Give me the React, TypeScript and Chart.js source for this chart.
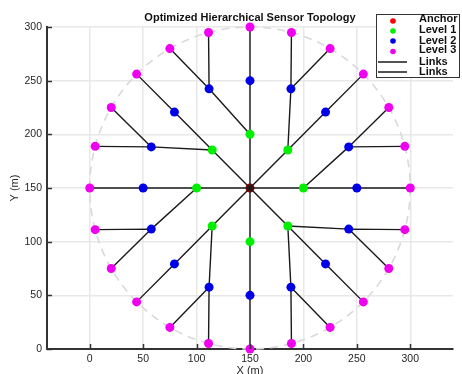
import { useEffect, useRef } from 'react';
import { Chart, registerables } from 'chart.js';

Chart.register(...registerables);

const TITLE = 'Optimized Hierarchical Sensor Topology';
const X_LABEL = 'X (m)';
const Y_LABEL = 'Y (m)';
const X_TICKS = [0, 50, 100, 150, 200, 250, 300];
const Y_TICKS = [0, 50, 100, 150, 200, 250, 300];
const X_RANGE = [-40, 340];
const Y_RANGE = [0, 300];

const ANCHOR_X = [150];
const ANCHOR_Y = [150];

const L1_X = [200, 185.4, 150, 114.6, 100, 114.6, 150, 185.4];
const L1_Y = [150, 185.4, 200, 185.4, 150, 114.6, 100, 114.6];

const L2_X = [250, 242.4, 220.7, 188.3, 150, 111.7, 79.3, 57.6, 50, 57.6, 79.3, 111.7, 150, 188.3, 220.7, 242.4];
const L2_Y = [150, 188.3, 220.7, 242.4, 250, 242.4, 220.7, 188.3, 150, 111.7, 79.3, 57.6, 50, 57.6, 79.3, 111.7];

const L3_X = [300, 294.9, 279.9, 256.1, 225, 188.8, 150, 111.2, 75, 43.9, 20.1, 5.1, 0, 5.1, 20.1, 43.9, 75, 111.2, 150, 188.8, 225, 256.1, 279.9, 294.9];
const L3_Y = [150, 188.8, 225, 256.1, 279.9, 294.9, 300, 294.9, 279.9, 256.1, 225, 188.8, 150, 111.2, 75, 43.9, 20.1, 5.1, 0, 5.1, 20.1, 43.9, 75, 111.2];

// parent index of each Level 2 node (into Level 1) and of each Level 3 node (into Level 2)
const L2_PARENT = [0, 0, 1, 1, 2, 2, 3, 3, 4, 4, 5, 5, 6, 7, 7, 7];
const L3_PARENT = [0, 1, 1, 2, 3, 3, 4, 5, 5, 6, 7, 7, 8, 9, 9, 10, 11, 11, 12, 13, 13, 14, 15, 15];

const COVERAGE_CENTER = [150, 150];
const COVERAGE_RADIUS = [150];

const LEGEND_LABELS = ['Anchor', 'Level 1', 'Level 2', 'Level 3', 'Links', 'Links'];
const COLORS = { anchor: '#ff0000', anchorPlot: '#a00000', l1: '#00f000', l2: '#0000e6', l3: '#f000f0', link: '#1a1a1a' };

const FONT = "'Liberation Sans', Arial, sans-serif";

type P = { x: number; y: number };

function pts(xs: number[], ys: number[]): P[] {
  return xs.map((x, i) => ({ x, y: ys[i] }));
}

function segments(pairs: [P, P][]): P[] {
  const out: P[] = [];
  pairs.forEach(([a, b]) => {
    out.push(a, b, { x: NaN, y: NaN });
  });
  return out;
}

const overlayPlugin = {
  id: 'overlay',
  beforeDatasetsDraw(chart: any) {
    const { ctx, scales } = chart;
    const xs = scales.x, ys = scales.y;
    const cx = xs.getPixelForValue(COVERAGE_CENTER[0]);
    const cy = ys.getPixelForValue(COVERAGE_CENTER[1]);
    const rx = xs.getPixelForValue(COVERAGE_CENTER[0] + COVERAGE_RADIUS[0]) - cx;
    const ry = cy - ys.getPixelForValue(COVERAGE_CENTER[1] + COVERAGE_RADIUS[0]);
    ctx.save();
    ctx.strokeStyle = '#d9d9d9';
    ctx.lineWidth = 1.6;
    ctx.setLineDash([8, 6]);
    ctx.beginPath();
    ctx.ellipse(cx, cy, rx, ry, 0, 0, Math.PI * 2);
    ctx.stroke();
    ctx.restore();
  },
  afterDraw(chart: any) {
    const { ctx, chartArea, scales } = chart;
    const { left, right, top, bottom } = chartArea;
    ctx.save();
    // inward tick marks
    ctx.strokeStyle = '#333';
    ctx.lineWidth = 1.5;
    ctx.beginPath();
    X_TICKS.forEach((v) => {
      const px = Math.round(scales.x.getPixelForValue(v)) + 0.5;
      ctx.moveTo(px, bottom);
      ctx.lineTo(px, bottom - 5);
    });
    Y_TICKS.forEach((v) => {
      const py = Math.round(scales.y.getPixelForValue(v)) + 0.5;
      ctx.moveTo(left, py);
      ctx.lineTo(left + 5, py);
    });
    ctx.stroke();

    // title
    ctx.fillStyle = '#111';
    ctx.font = `bold 11px ${FONT}`;
    ctx.textAlign = 'center';
    ctx.textBaseline = 'middle';
    ctx.fillText(TITLE, (left + right) / 2, top - 9);

    // axis titles
    ctx.fillStyle = '#262626';
    ctx.font = `11px ${FONT}`;
    ctx.fillText(X_LABEL, (left + right) / 2, bottom + 22);
    ctx.save();
    ctx.translate(left - 32, (top + bottom) / 2);
    ctx.rotate(-Math.PI / 2);
    ctx.fillText(Y_LABEL, 0, 0);
    ctx.restore();

    // legend
    const bx = right - 77, by = top - 13, bw = 83, bh = 63;
    ctx.fillStyle = '#fff';
    ctx.fillRect(bx, by, bw, bh);
    ctx.strokeStyle = '#333';
    ctx.lineWidth = 1;
    ctx.strokeRect(bx + 0.5, by + 0.5, bw, bh);
    const markerY = [7, 17, 27, 37.5, 48, 58];
    const textY = [5, 16, 27, 36, 47.5, 57.5];
    const markerColors = [COLORS.anchor, COLORS.l1, COLORS.l2, COLORS.l3];
    LEGEND_LABELS.forEach((label, i) => {
      const my = by + markerY[i];
      if (i < 4) {
        ctx.fillStyle = markerColors[i];
        ctx.beginPath();
        ctx.arc(bx + 17, my, 2.8, 0, Math.PI * 2);
        ctx.fill();
      } else {
        ctx.strokeStyle = COLORS.link;
        ctx.lineWidth = 1.5;
        ctx.beginPath();
        ctx.moveTo(bx + 2, my);
        ctx.lineTo(bx + 31, my);
        ctx.stroke();
      }
      ctx.fillStyle = '#111';
      ctx.font = `bold 11px ${FONT}`;
      ctx.textAlign = 'left';
      ctx.textBaseline = 'middle';
      ctx.fillText(label, bx + 43, by + textY[i]);
    });
    ctx.restore();
  },
};

export default function App() {
  const ref = useRef<HTMLCanvasElement | null>(null);

  useEffect(() => {
    document.body.style.margin = '0';
    const canvas = ref.current;
    if (!canvas) return;

    const anchor = pts(ANCHOR_X, ANCHOR_Y);
    const l1 = pts(L1_X, L1_Y);
    const l2 = pts(L2_X, L2_Y);
    const l3 = pts(L3_X, L3_Y);

    const upperLinks = segments([
      ...l1.map((p) => [anchor[0], p] as [P, P]),
      ...l2.map((p, i) => [l1[L2_PARENT[i]], p] as [P, P]),
    ]);
    const lowerLinks = segments(l3.map((p, i) => [l2[L3_PARENT[i]], p] as [P, P]));

    const pointDs = (label: string, data: P[], color: string, order: number) => ({
      type: 'scatter' as const,
      label,
      data,
      backgroundColor: color,
      borderColor: color,
      pointRadius: 4.5,
      pointBorderWidth: 0,
      showLine: false,
      clip: false as any,
      order,
    });

    const linkDs = (label: string, data: P[]) => ({
      type: 'scatter' as const,
      label,
      data,
      showLine: true,
      spanGaps: false,
      borderColor: COLORS.link,
      borderWidth: 1.4,
      pointRadius: 0,
      tension: 0,
      order: 2,
    });

    const chart = new Chart(canvas, {
      type: 'scatter',
      data: {
        datasets: [
          pointDs(LEGEND_LABELS[1], l1, COLORS.l1, 0),
          pointDs(LEGEND_LABELS[2], l2, COLORS.l2, 0),
          pointDs(LEGEND_LABELS[3], l3, COLORS.l3, 0),
          linkDs(LEGEND_LABELS[4], upperLinks),
          linkDs(LEGEND_LABELS[5], lowerLinks),
          pointDs(LEGEND_LABELS[0], anchor, COLORS.anchorPlot, 5),
        ] as any,
      },
      options: {
        responsive: false,
        animation: false,
        events: [],
        layout: { padding: { top: 27, right: 9, left: 0, bottom: 0 } },
        plugins: {
          legend: { display: false },
          tooltip: { enabled: false },
          title: { display: false },
        },
        scales: {
          x: {
            type: 'linear',
            min: X_RANGE[0],
            max: X_RANGE[1],
            afterFit: (s: any) => {
              s.height = 25;
            },
            afterBuildTicks: (s: any) => {
              s.ticks = X_TICKS.map((v) => ({ value: v }));
            },
            ticks: { color: '#262626', font: { family: FONT, size: 10.5 }, padding: 4, maxRotation: 0 },
            grid: { color: '#e8e8e8', lineWidth: 1.5, drawTicks: false },
            border: { display: true, color: '#333', width: 2 },
          },
          y: {
            type: 'linear',
            min: Y_RANGE[0],
            max: Y_RANGE[1],
            afterFit: (s: any) => {
              s.width = 47;
            },
            afterBuildTicks: (s: any) => {
              s.ticks = Y_TICKS.map((v) => ({ value: v }));
            },
            ticks: { color: '#262626', font: { family: FONT, size: 10.5 }, padding: 5 },
            grid: { color: '#e8e8e8', lineWidth: 1.5, drawTicks: false },
            border: { display: true, color: '#333', width: 2 },
          },
        },
      } as any,
      plugins: [overlayPlugin],
    });

    return () => chart.destroy();
  }, []);

  return <canvas ref={ref} width={462} height={374} style={{ display: 'block', width: 462, height: 374 }} />;
}
